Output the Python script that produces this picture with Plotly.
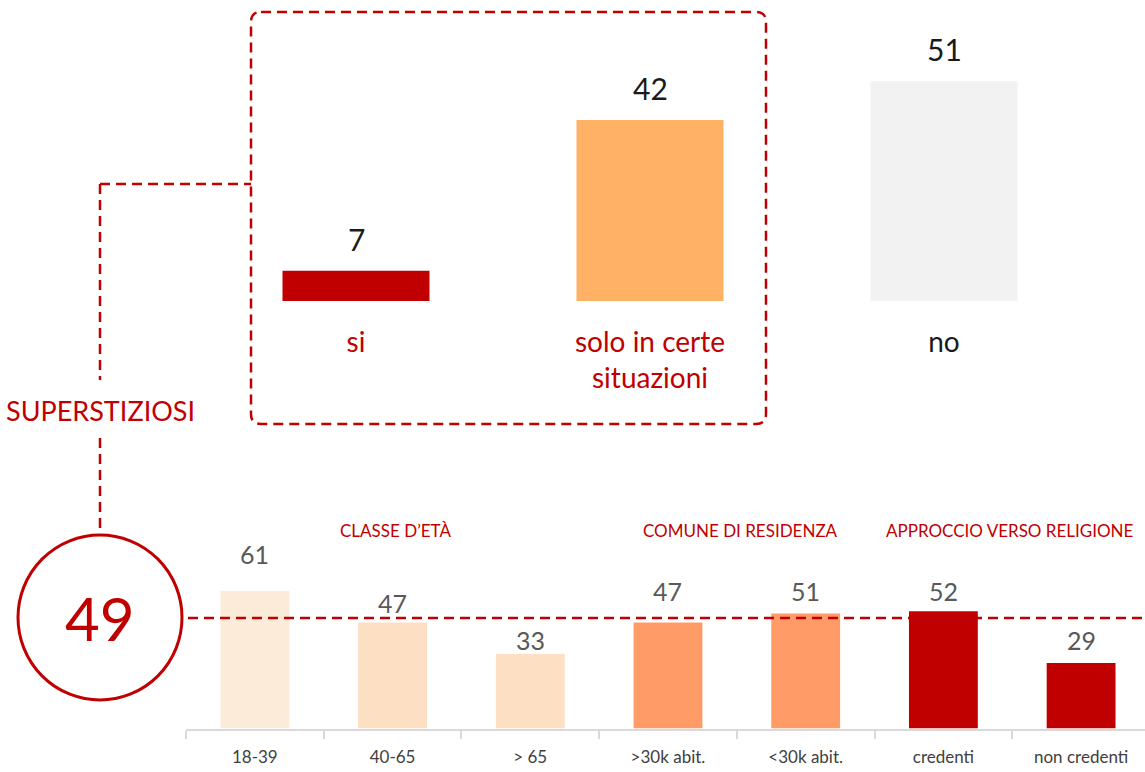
import plotly.graph_objects as go

W, H = 1145, 772
FONT = "Lato"
RED = "#C00000"

# ---- data ----
top_categories = ["si", "solo in certe situazioni", "no"]
top_values = [7, 42, 51]
top_tick_labels = ["si", "solo in certe<br>situazioni", "no"]

bottom_categories = ["18-39", "40-65", "> 65", ">30k abit.", "<30k abit.", "credenti", "non credenti"]
bottom_values = [61, 47, 33, 47, 51, 52, 29]
group_labels = ["CLASSE D’ETÀ", "COMUNE DI RESIDENZA", "APPROCCIO VERSO RELIGIONE"]
overall_value = 49
overall_label = "SUPERSTIZIOSI"

# ---- styles ----
top_colors = [RED, "#FFB166", "#F2F2F2"]
top_label_colors = [RED, RED, "#1A1A1A"]
bottom_colors = ["#FDEBDA", "#FDDFC3", "#FDDFC3", "#FF9B66", "#FF9B66", RED, RED]
bottom_label_shift = [37, 20, 14, 32, 23, 20, 23]
group_label_pos = [1.02, 3.53, 5.48]


def px(x):
    return x / W


def py(y):
    return 1 - y / H


fig = go.Figure()
fig.add_trace(go.Bar(x=top_categories, y=top_values, marker=dict(color=top_colors, line=dict(width=0)),
                     width=0.5, xaxis="x", yaxis="y", hoverinfo="skip"))
fig.add_trace(go.Bar(x=bottom_categories, y=bottom_values, marker=dict(color=bottom_colors, line=dict(width=0)),
                     width=0.5, xaxis="x2", yaxis="y2", hoverinfo="skip"))

annotations = []
for c, v in zip(top_categories, top_values):
    annotations.append(dict(x=c, y=v, xref="x", yref="y", text=str(v), showarrow=False,
                            yanchor="middle", yshift=32, font=dict(family=FONT, size=30, color="#1A1A1A")))
for c, v, s in zip(bottom_categories, bottom_values, bottom_label_shift):
    annotations.append(dict(x=c, y=v, xref="x2", yref="y2", text=str(v), showarrow=False,
                            yanchor="middle", yshift=s, font=dict(family=FONT, size=25, color="#595959")))
for g, p in zip(group_labels, group_label_pos):
    annotations.append(dict(x=p, y=py(530), xref="x2", yref="paper", text=g, showarrow=False,
                            yanchor="middle", xanchor="center", font=dict(family=FONT, size=17, color=RED)))
annotations.append(dict(x=px(100), y=overall_value, xref="paper", yref="y2", text=str(overall_value),
                        showarrow=False, xanchor="center", yanchor="middle",
                        font=dict(family=FONT, size=60, color=RED)))
annotations.append(dict(x=px(100), y=py(410), xref="paper", yref="paper", text=overall_label,
                        showarrow=False, xanchor="center", yanchor="middle",
                        font=dict(family=FONT, size=27, color=RED)))

dash = "10px,6px"
line_style = dict(color=RED, width=2.5, dash=dash)

# rounded dashed box
x0, x1, y0, y1, r = 251, 766, 12, 424, 10
path = (f"M {px(x0 + r)},{py(y0)} L {px(x1 - r)},{py(y0)} Q {px(x1)},{py(y0)} {px(x1)},{py(y0 + r)} "
        f"L {px(x1)},{py(y1 - r)} Q {px(x1)},{py(y1)} {px(x1 - r)},{py(y1)} "
        f"L {px(x0 + r)},{py(y1)} Q {px(x0)},{py(y1)} {px(x0)},{py(y1 - r)} "
        f"L {px(x0)},{py(y0 + r)} Q {px(x0)},{py(y0)} {px(x0 + r)},{py(y0)}")
shapes = [
    dict(type="path", path=path, xref="paper", yref="paper", line=line_style),
    dict(type="line", xref="paper", yref="paper", x0=px(100), x1=px(251), y0=py(184), y1=py(184), line=line_style),
    dict(type="line", xref="paper", yref="paper", x0=px(100), x1=px(100), y0=py(184), y1=py(380), line=line_style),
    dict(type="line", xref="paper", yref="paper", x0=px(100), x1=px(100), y0=py(438), y1=py(535), line=line_style),
    dict(type="line", xref="paper", yref="y2", x0=px(188), x1=1, y0=overall_value, y1=overall_value, line=line_style),
    dict(type="circle", xref="paper", yref="paper", x0=px(18), x1=px(182), y0=py(535), y1=py(700),
         line=dict(color=RED, width=3)),
]

ticktext_top = [f"<span style='color:{col}'>{t}</span>" for t, col in zip(top_tick_labels, top_label_colors)]

fig.update_layout(
    width=W, height=H,
    margin=dict(l=0, r=0, t=0, b=0),
    paper_bgcolor="white", plot_bgcolor="white",
    showlegend=False, bargap=0.5,
    font=dict(family=FONT),
    xaxis=dict(domain=[px(209), px(1091)], range=[-0.5, 2.5], type="category",
               tickmode="array", tickvals=top_categories, ticktext=ticktext_top,
               tickfont=dict(family=FONT, size=28), showline=False, showgrid=False, zeroline=False,
               ticks="", ticklabelstandoff=22, anchor="y"),
    yaxis=dict(domain=[py(301), 1], range=[0, 301 / 4.31], visible=False, anchor="x"),
    xaxis2=dict(domain=[px(186), 1], range=[-0.5, 6.464], type="category",
                tickfont=dict(family=FONT, size=17, color="#404040"),
                showline=True, linecolor="#D9D9D9", linewidth=2,
                ticks="outside", tickson="boundaries", ticklen=8, tickcolor="#D9D9D9", tickwidth=2,
                ticklabelstandoff=12,
                showgrid=False, zeroline=False, anchor="y2"),
    yaxis2=dict(domain=[py(728.5), py(500)], range=[0, 228.5 / 2.255], visible=False, anchor="x2"),
    annotations=annotations,
    shapes=shapes,
)

fig.write_html("out.html", config={"displayModeBar": False},
               post_script="document.body.style.margin='0px';")
